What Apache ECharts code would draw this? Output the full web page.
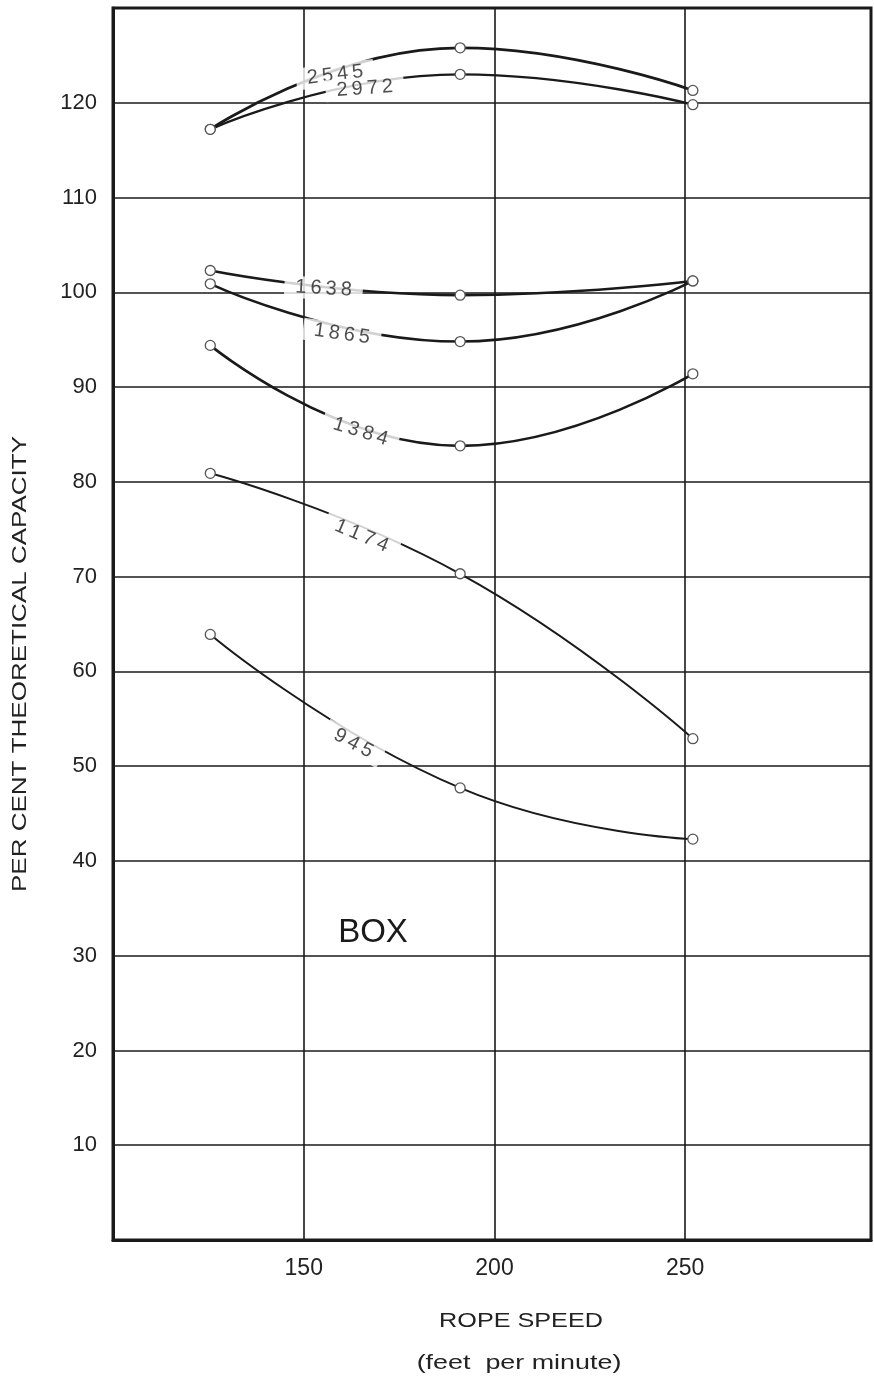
<!DOCTYPE html>
<html>
<head>
<meta charset="utf-8">
<script src="https://cdn.jsdelivr.net/npm/echarts@6/dist/echarts.min.js"></script>
<style>
  html, body { margin: 0; padding: 0; background: #fff; }
  #chart { width: 874px; height: 1379px; }
</style>
</head>
<body>
<div id="chart"></div>
<script>
// Rope speeds (feet per minute) at which each load was tested
const ropeSpeeds = [125.5, 191, 252];

// Per cent of theoretical capacity, one list per load
const loadNames = ['2545', '2972', '1638', '1865', '1384', '1174', '945'];
const cap2545 = [117.2, 125.8, 121.3];
const cap2972 = [117.2, 123.0, 119.8];
const cap1638 = [102.3, 99.7, 101.2];
const cap1865 = [100.9, 94.8, 101.2];
const cap1384 = [94.4, 83.8, 91.4];
const cap1174 = [80.9, 70.3, 52.9];
const cap945 = [63.9, 47.7, 42.3];

// Tick values shown on the axes
const xTickLabels = [150, 200, 250];
const yTickLabels = [10, 20, 30, 40, 50, 60, 70, 80, 90, 100, 110, 120];

const capacities = [cap2545, cap2972, cap1638, cap1865, cap1384, cap1174, cap945];

// Where each curve's load label sits along it (rope speed, capacity) and its slant
const curveTags = {
  '2545': { at: [158.2, 122.95], angle: 7 },
  '2972': { at: [166.0, 121.5], angle: 4 },
  '1638': { at: [155.2, 100.4], angle: -3 },
  '1865': { at: [160.0, 95.6], angle: -8 },
  '1384': { at: [164.9, 85.3], angle: -17 },
  '1174': { at: [165.2, 74.3], angle: -23 },
  '945':  { at: [163.0, 52.4], angle: -28 }
};

const lineWidths = { '2545': 2.8, '2972': 2.4, '1638': 2.6, '1865': 2.5, '1384': 2.6, '1174': 2.0, '945': 2.0 };

const ink = '#1a1a1a';
const chart = echarts.init(document.getElementById('chart'));

const curveSeries = loadNames.map((name, i) => ({
  name: name,
  type: 'line',
  smooth: 0.5,
  data: ropeSpeeds.map((s, j) => [s, capacities[i][j]]),
  symbol: 'circle',
  symbolSize: 10,
  itemStyle: { color: '#fff', borderColor: '#555', borderWidth: 1.3 },
  lineStyle: { color: ink, width: lineWidths[name] },
  z: 3
}));

// Load numbers written into gaps along the curves
const tagSeries = {
  type: 'scatter',
  symbolSize: 0,
  silent: true,
  z: 5,
  data: loadNames.map(name => ({
    name: name,
    value: curveTags[name].at,
    label: { rotate: curveTags[name].angle }
  })),
  label: {
    show: true,
    position: 'inside',
    formatter: p => p.name.split('').join('\u2009'),
    color: '#222',
    fontFamily: 'Liberation Sans',
    fontSize: 20,
    backgroundColor: '#fff',
    padding: [1, 11]
  }
};

chart.setOption({
  animation: false,
  backgroundColor: '#fff',
  grid: {
    left: 113, top: 8, right: 2, bottom: 139,
    show: true, borderColor: ink, borderWidth: 3
  },
  xAxis: {
    type: 'value', min: 100, max: 298.7, interval: 50,
    axisLine: { show: true, lineStyle: { color: ink, width: 3 } },
    axisTick: { show: false },
    splitLine: { show: true, lineStyle: { color: ink, width: 1.6 } },
    axisLabel: {
      margin: 17, color: '#222', fontFamily: 'Liberation Sans', fontSize: 23,
      formatter: v => xTickLabels.includes(v) ? String(v) : ''
    }
  },
  yAxis: {
    type: 'value', min: 0, max: 130, interval: 10,
    axisLine: { show: true, lineStyle: { color: ink, width: 3 } },
    axisTick: { show: false },
    splitLine: { show: true, lineStyle: { color: ink, width: 1.6 } },
    axisLabel: {
      margin: 16, color: '#222', fontFamily: 'Liberation Sans', fontSize: 22,
      formatter: v => yTickLabels.includes(v) ? String(v) : ''
    }
  },
  graphic: [
    {
      type: 'text', x: 20, y: 664, rotation: Math.PI / 2, scaleX: 1.3,
      style: {
        text: 'PER CENT THEORETICAL CAPACITY', fill: '#222',
        font: '20px "Liberation Sans"', align: 'center', verticalAlign: 'middle'
      }
    },
    {
      type: 'text', x: 521, y: 1321, scaleX: 1.2,
      style: {
        text: 'ROPE SPEED', fill: '#222',
        font: '21px "Liberation Sans"', align: 'center', verticalAlign: 'middle'
      }
    },
    {
      type: 'text', x: 519, y: 1363, scaleX: 1.28,
      style: {
        text: '(feet  per minute)', fill: '#222',
        font: '21px "Liberation Sans"', align: 'center', verticalAlign: 'middle'
      }
    },
    {
      type: 'text', x: 373, y: 933,
      style: {
        text: 'BOX', fill: '#1a1a1a',
        font: '33px "Liberation Sans"', align: 'center', verticalAlign: 'middle'
      }
    }
  ],
  series: curveSeries.concat([tagSeries])
});
</script>
</body>
</html>
